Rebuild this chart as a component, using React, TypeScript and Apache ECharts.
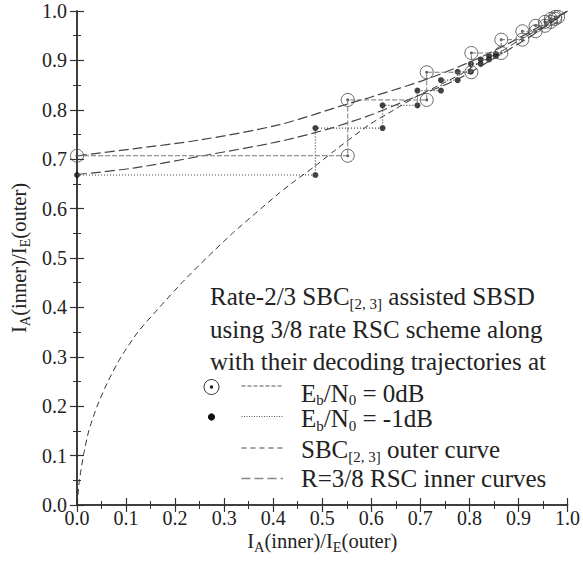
import React, { useEffect, useRef } from 'react';
import * as echarts from 'echarts';

// ---------- data ----------
const axisMin = 0;
const axisMax = 1;
const tickStep = 0.1;

// SBC[2,3] outer curve (x = I_E(outer), y = I_A(outer))
const outerX = [0, 0.005, 0.013, 0.024, 0.041, 0.063, 0.09, 0.124, 0.168, 0.214, 0.264, 0.317, 0.375, 0.413, 0.444, 0.484, 0.522, 0.596, 0.65, 0.694, 0.745, 0.786, 0.82, 0.86, 0.9, 0.95, 1];
const outerY = [0, 0.05, 0.1, 0.15, 0.2, 0.25, 0.3, 0.35, 0.4, 0.45, 0.5, 0.55, 0.6, 0.632, 0.656, 0.685, 0.715, 0.77, 0.802, 0.828, 0.853, 0.874, 0.895, 0.915, 0.94, 0.968, 1];

// R=3/8 RSC inner curve at 0 dB
const inner0X = [0, 0.115, 0.251, 0.413, 0.552, 0.6, 0.713, 0.82, 0.9, 1];
const inner0Y = [0.707, 0.721, 0.739, 0.77, 0.812, 0.826, 0.862, 0.905, 0.945, 1];

// R=3/8 RSC inner curve at -1 dB
const innerM1X = [0, 0.115, 0.251, 0.413, 0.515, 0.6, 0.694, 0.776, 0.86, 0.93, 1];
const innerM1Y = [0.669, 0.682, 0.706, 0.736, 0.762, 0.79, 0.828, 0.862, 0.91, 0.952, 1];

// decoding trajectory, Eb/N0 = 0 dB
const traj0X = [0, 0.552, 0.552, 0.713, 0.713, 0.804, 0.804, 0.865, 0.865, 0.908, 0.908, 0.935, 0.935, 0.954, 0.954, 0.966, 0.966, 0.975, 0.975, 0.981];
const traj0Y = [0.707, 0.707, 0.82, 0.82, 0.876, 0.876, 0.915, 0.915, 0.942, 0.942, 0.959, 0.959, 0.97, 0.97, 0.978, 0.978, 0.984, 0.984, 0.988, 0.988];

// decoding trajectory, Eb/N0 = -1 dB
const trajM1X = [0, 0.486, 0.486, 0.623, 0.623, 0.694, 0.694, 0.742, 0.742, 0.776, 0.776, 0.803, 0.803, 0.823, 0.823, 0.84, 0.84, 0.854, 0.854];
const trajM1Y = [0.668, 0.668, 0.763, 0.763, 0.809, 0.809, 0.839, 0.839, 0.86, 0.86, 0.877, 0.877, 0.893, 0.893, 0.902, 0.902, 0.909, 0.909, 0.913];

const titleLines = [
  '{n|Rate-2/3 SBC}{s|[2, 3]}{n| assisted SBSD}',
  '{n|using 3/8 rate RSC scheme along}',
  '{n|with their decoding trajectories at}',
];
const legendLabels = [
  '{n|E}{s|b}{n|/N}{s|0}{n| = 0dB}',
  '{n|E}{s|b}{n|/N}{s|0}{n| = -1dB}',
  '{n|SBC}{s|[2, 3]}{n| outer curve}',
  '{n|R=3/8 RSC inner curves}',
];
const axisTitle = '{n|I}{s|A}{n|(inner)/I}{s|E}{n|(outer)}';

// ---------- styling ----------
const FONT = 'Liberation Serif';
const INK = '#222';

const pairs = (xs: number[], ys: number[]) => xs.map((x, i) => [x, ys[i]]);

export default function App() {
  const ref = useRef<HTMLDivElement>(null);
  useEffect(() => {
    if (!ref.current) return;
    const chart = echarts.init(ref.current, undefined, { renderer: 'svg' });

    const nameRich = {
      n: { fontSize: 20.5, fontFamily: FONT, color: INK, lineHeight: 24, verticalAlign: 'top' },
      s: { fontSize: 14.5, fontFamily: FONT, color: INK, lineHeight: 12, verticalAlign: 'bottom' },
    };
    const baseAxis = {
      type: 'value',
      min: axisMin,
      max: axisMax,
      interval: tickStep,
      splitLine: { show: false },
      axisLine: { show: true, lineStyle: { color: '#333', width: 1.5 } },
      axisTick: { show: true, inside: true, length: 7, lineStyle: { color: '#333', width: 1.2 } },
      minorTick: { show: true, splitNumber: 2, length: 4, lineStyle: { color: '#333', width: 1 } },
    };
    const labelStyle = {
      fontSize: 20,
      fontFamily: FONT,
      color: INK,
      lineHeight: 20,
      formatter: (v: number) => v.toFixed(1),
    };

    const richText = {
      n: { fontSize: 25, fontFamily: FONT, fill: INK, lineHeight: 25.5, verticalAlign: 'top' },
      s: { fontSize: 15, fontFamily: FONT, fill: INK, lineHeight: 27, verticalAlign: 'bottom' },
    };
    const BASE_OFF = 20.9;
    const titleBaselines = [305, 338, 370];
    const legendBaselines = [401.5, 427, 458, 487];
    const lineSampleY = [386, 416.5, 448, 478.5];
    const graphics: any[] = [];
    titleLines.forEach((t, i) => {
      graphics.push({
        type: 'text', x: 210, y: titleBaselines[i] - BASE_OFF, silent: true,
        style: { text: t, rich: richText, fontFamily: FONT, fontSize: 25, fill: INK, verticalAlign: 'top', align: 'left' },
      });
    });
    legendLabels.forEach((t, i) => {
      graphics.push({
        type: 'text', x: 301, y: legendBaselines[i] - BASE_OFF, silent: true,
        style: { text: t, rich: richText, fontFamily: FONT, fontSize: 25, fill: INK, verticalAlign: 'top', align: 'left' },
      });
    });
    const sampleStyles = [
      { stroke: '#555', lineWidth: 1, lineDash: [4, 2] },
      { stroke: '#555', lineWidth: 1, lineDash: [1, 1.5] },
      { stroke: '#444', lineWidth: 1, lineDash: [5, 4] },
      { stroke: '#888', lineWidth: 1.5, lineDash: [9, 4] },
    ];
    sampleStyles.forEach((s, i) => {
      graphics.push({
        type: 'line', silent: true,
        shape: { x1: 241.5, y1: lineSampleY[i], x2: 283, y2: lineSampleY[i] },
        style: s,
      });
    });
    graphics.push({ type: 'circle', silent: true, shape: { cx: 211.5, cy: 387, r: 7.5 }, style: { fill: 'none', stroke: '#333', lineWidth: 1 } });
    graphics.push({ type: 'circle', silent: true, shape: { cx: 211.5, cy: 387, r: 1.7 }, style: { fill: '#222' } });
    graphics.push({ type: 'circle', silent: true, shape: { cx: 211.5, cy: 417, r: 3.6 }, style: { fill: '#111' } });

    chart.setOption({
      animation: false,
      backgroundColor: '#fff',
      grid: { left: 77, right: 14, top: 11, bottom: 60, containLabel: false },
      xAxis: [
        {
          ...baseAxis,
          position: 'bottom',
          axisLabel: { ...labelStyle, margin: 3 },
          name: axisTitle,
          nameLocation: 'middle',
          nameGap: 25.5,
          nameMoveOverlap: false,
          nameTextStyle: { fontSize: 20.5, fontFamily: FONT, color: INK, rich: nameRich },
        },
        { ...baseAxis, position: 'top', axisLabel: { show: false } },
      ],
      yAxis: [
        {
          ...baseAxis,
          position: 'left',
          axisLabel: { ...labelStyle, margin: 10 },
          name: axisTitle,
          nameLocation: 'middle',
          nameRotate: 90,
          nameGap: 45,
          nameMoveOverlap: false,
          nameTextStyle: { fontSize: 20.5, fontFamily: FONT, color: INK, rich: nameRich },
        },
        { ...baseAxis, position: 'right', axisLabel: { show: false } },
      ],
      series: [
        {
          type: 'line', name: 'outer', data: pairs(outerX, outerY), showSymbol: false,
          smooth: 0.2, silent: true,
          lineStyle: { color: '#333', width: 1, type: [6, 4] },
        },
        {
          type: 'line', name: 'inner0', data: pairs(inner0X, inner0Y), showSymbol: false,
          smooth: 0.3, silent: true,
          lineStyle: { color: '#444', width: 1.2, type: [10, 4] },
        },
        {
          type: 'line', name: 'innerM1', data: pairs(innerM1X, innerM1Y), showSymbol: false,
          smooth: 0.3, silent: true,
          lineStyle: { color: '#444', width: 1.2, type: [10, 4] },
        },
        {
          type: 'line', name: 'traj0', data: pairs(traj0X, traj0Y), showSymbol: false, silent: true,
          lineStyle: { color: '#777', width: 1, type: [5, 2] },
        },
        {
          type: 'line', name: 'trajM1', data: pairs(trajM1X, trajM1Y), showSymbol: false, silent: true,
          lineStyle: { color: '#444', width: 1.2, type: [1, 2] },
        },
        {
          type: 'scatter', name: 'traj0Ring', data: pairs(traj0X, traj0Y), symbol: 'circle', symbolSize: 13, silent: true,
          itemStyle: { color: 'rgba(0,0,0,0)', borderColor: '#444', borderWidth: 1 },
        },
        {
          type: 'scatter', name: 'traj0Dot', data: pairs(traj0X, traj0Y), symbol: 'circle', symbolSize: 3, silent: true,
          itemStyle: { color: '#333' },
        },
        {
          type: 'scatter', name: 'trajM1Dot', data: pairs(trajM1X, trajM1Y), symbol: 'circle', symbolSize: 6, silent: true,
          itemStyle: { color: '#111' },
        },
      ],
      graphic: graphics,
    });
    return () => chart.dispose();
  }, []);
  return (
    <div
      ref={ref}
      style={{ position: 'fixed', left: 0, top: 0, width: 583, height: 565, background: '#fff' }}
    />
  );
}
